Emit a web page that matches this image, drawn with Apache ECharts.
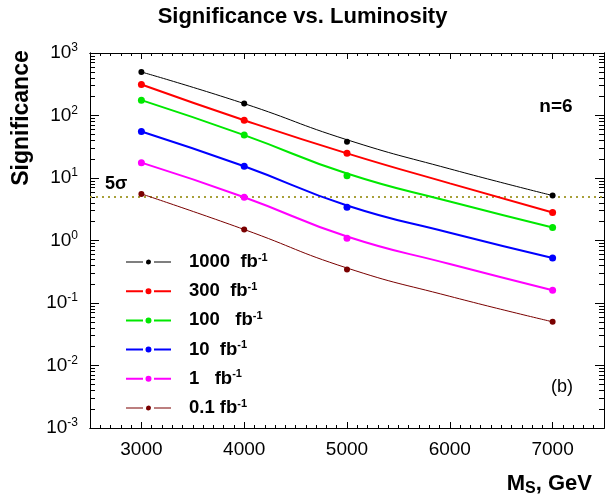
<!DOCTYPE html>
<html>
<head>
<meta charset="utf-8">
<script src="https://cdn.jsdelivr.net/npm/echarts@6/dist/echarts.min.js"></script>
<style>
  html, body { margin: 0; padding: 0; background: #ffffff; }
  #chart { width: 605px; height: 500px; }
</style>
</head>
<body>
<div id="chart"></div>
<script>
// Resonance mass points (GeV)
const massPoints = [3000, 4000, 5000, 7000];

// Significance for each integrated luminosity (n = 6), computed points
const sig1000 = [497, 155, 38.1, 5.24];
const sig300  = [313, 84, 24.8, 2.81];
const sig100  = [176, 48.6, 10.9, 1.62];
const sig10   = [55.6, 15.4, 3.41, 0.524];
const sig1    = [17.6, 4.93, 1.09, 0.160];
const sig01   = [5.57, 1.50, 0.342, 0.050];

// Fitted curves through the points, sampled every 1000 GeV
const fitMass = [3000, 4000, 5000, 6000, 7000];
const fit1000 = [497, 155, 40.9, 14.0, 5.24];
const fit300  = [313, 84, 24.8, 8.2, 2.81];
const fit100  = [176, 48.6, 11.8, 4.2, 1.62];
const fit10   = [55.6, 15.4, 3.63, 1.33, 0.524];
const fit1    = [17.6, 4.93, 1.16, 0.42, 0.160];
const fit01   = [5.57, 1.50, 0.363, 0.128, 0.050];

// Legend labels (the fb^-1 exponent is added as superscript)
const lumiNames = ['1000  fb', '300  fb', '100   fb', '10  fb', '1   fb', '0.1 fb'];

// Axis ticks
const xTickLabels = [3000, 4000, 5000, 6000, 7000];
const yDecades = [0.001, 0.01, 0.1, 1, 10, 100, 1000];
const fiveSigma = 5;

const pointSets = [sig1000, sig300, sig100, sig10, sig1, sig01];
const fitSets = [fit1000, fit300, fit100, fit10, fit1, fit01];
const seriesColors = ['#000000', '#ff0000', '#00e800', '#0000ff', '#ff00ff', '#7a0000'];
const lineWidths = [1, 2, 2, 2, 2, 1];
const dotSizes = [6, 7, 7, 7, 7, 6];

const FONT = '"Liberation Sans", Arial, Helvetica, sans-serif';

// minor tick positions: 100 GeV steps along x, 2..9 within each decade along y
const xMinor = [];
for (let v = 2500; v <= 7500; v += 100) xMinor.push(v);
const yMinor = [];
for (let d = 0; d < yDecades.length - 1; d++) {
  for (let m = 2; m <= 9; m++) yMinor.push(+(m * yDecades[d]).toPrecision(3));
}

const blackLine = { show: true, lineStyle: { color: '#000', width: 1 } };

function xAxisDef(position, ticks, len, withLabels) {
  return {
    type: 'value', position: position, min: 2500, max: 7500,
    axisLine: blackLine,
    axisTick: { show: true, inside: true, length: len, customValues: ticks, lineStyle: { color: '#000', width: 1 } },
    axisLabel: withLabels ? {
      show: true, customValues: xTickLabels, margin: 12, color: '#000',
      fontSize: 19, fontFamily: FONT,
      formatter: function (v) { return String(v); }
    } : { show: false },
    splitLine: { show: false }
  };
}

function yAxisDef(position, ticks, len, withLabels) {
  return {
    type: 'log', logBase: 10, position: position, min: 0.001, max: 1000,
    axisLine: blackLine,
    axisTick: { show: true, inside: true, length: len, customValues: ticks, lineStyle: { color: '#000', width: 1 } },
    axisLabel: withLabels ? {
      show: true, customValues: yDecades, margin: 12, color: '#000',
      fontFamily: FONT,
      formatter: function (v) {
        return '{b|10}{s|' + Math.round(Math.log10(v)) + '}';
      },
      rich: {
        b: { fontSize: 19, fontFamily: FONT, color: '#000', lineHeight: 22 },
        s: { fontSize: 12, fontFamily: FONT, color: '#000', verticalAlign: 'top', lineHeight: 22, padding: [0, 0, 9, 0] }
      }
    } : { show: false },
    splitLine: { show: false }
  };
}

const legendIconThin = 'path://M0,4.5H17V5.5H0Z M28,4.5H45V5.5H28Z M22.5,2.5A2.5,2.5 0 1 1 22.49,2.5Z';
const legendIconThick = 'path://M0,4H17V6H0Z M28,4H45V6H28Z M22.5,2A3,3 0 1 1 22.49,2Z';

const series = [];
fitSets.forEach(function (vals, i) {
  series.push({
    name: lumiNames[i],
    type: 'line',
    xAxisIndex: 0, yAxisIndex: 0,
    data: fitMass.map(function (m, k) { return [m, vals[k]]; }),
    smooth: 0.5,
    showSymbol: false,
    symbol: 'circle',
    lineStyle: { color: seriesColors[i], width: lineWidths[i] },
    itemStyle: { color: seriesColors[i] },
    emphasis: { disabled: true },
    z: 5
  });
});
pointSets.forEach(function (vals, i) {
  series.push({
    name: lumiNames[i],
    type: 'scatter',
    xAxisIndex: 0, yAxisIndex: 0,
    data: massPoints.map(function (m, k) { return [m, vals[k]]; }),
    symbol: 'circle',
    symbolSize: dotSizes[i],
    itemStyle: { color: seriesColors[i], opacity: 1 },
    emphasis: { disabled: true },
    z: 6
  });
});

// 5 sigma discovery threshold
series[0].markLine = {
  silent: true,
  symbol: 'none',
  label: { show: false },
  lineStyle: { color: '#a8a03a', width: 2, type: [2, 4] },
  data: [{ yAxis: fiveSigma }]
};

const option = {
  backgroundColor: '#ffffff',
  animation: false,
  title: {
    text: 'Significance vs. Luminosity',
    left: 'center', top: 1,
    textStyle: { fontSize: 22, fontWeight: 'bold', color: '#000', fontFamily: FONT }
  },
  grid: { left: 90, right: 1, top: 53, bottom: 72, containLabel: false },
  xAxis: [
    xAxisDef('bottom', xTickLabels, 6, true),
    xAxisDef('bottom', xMinor, 3, false),
    xAxisDef('top', xTickLabels, 6, false),
    xAxisDef('top', xMinor, 3, false)
  ],
  yAxis: [
    yAxisDef('left', yDecades, 9, true),
    yAxisDef('left', yMinor, 5, false),
    yAxisDef('right', yDecades, 9, false),
    yAxisDef('right', yMinor, 5, false)
  ],
  legend: {
    orient: 'vertical',
    left: 121, top: 247,
    itemWidth: 45, itemHeight: 6,
    itemGap: 9.7,
    selectedMode: false,
    data: lumiNames.map(function (n, i) {
      return { name: n, icon: (lineWidths[i] > 1 ? legendIconThick : legendIconThin) };
    }),
    formatter: function (name) { return '{t|' + name + '}{s|-1}'; },
    textStyle: {
      padding: [0, 0, 0, 13],
      rich: {
        t: { fontSize: 18.5, fontWeight: 'bold', fontFamily: FONT, color: '#000', lineHeight: 20 },
        s: { fontSize: 11, fontWeight: 'bold', fontFamily: FONT, color: '#000', verticalAlign: 'top', lineHeight: 20, padding: [0, 0, 8, 0] }
      }
    }
  },
  graphic: [
    {
      type: 'text', x: 22, y: 118, rotation: Math.PI / 2,
      style: { text: 'Significance', font: 'bold 23px ' + FONT, fill: '#000', align: 'center', verticalAlign: 'middle' }
    },
    {
      type: 'text', x: 592, y: 484,
      style: {
        text: '{m|M}{s|S}{m|, GeV}', align: 'right', verticalAlign: 'middle',
        rich: {
          m: { font: 'bold 22px ' + FONT, fill: '#000', lineHeight: 26 },
          s: { font: 'bold 16px ' + FONT, fill: '#000', lineHeight: 26, verticalAlign: 'bottom', padding: [8, 0, 0, 0] }
        }
      }
    },
    {
      type: 'text', x: 105, y: 184,
      style: { text: '5σ', font: 'bold 18px ' + FONT, fill: '#000', align: 'left', verticalAlign: 'middle' }
    },
    {
      type: 'text', x: 556, y: 107,
      style: { text: 'n=6', font: 'bold 19px ' + FONT, fill: '#000', align: 'center', verticalAlign: 'middle' }
    },
    {
      type: 'text', x: 562, y: 387,
      style: { text: '(b)', font: '18px ' + FONT, fill: '#000', align: 'center', verticalAlign: 'middle' }
    }
  ],
  series: series
};

const chart = echarts.init(document.getElementById('chart'), null, { renderer: 'canvas' });
chart.setOption(option);
</script>
</body>
</html>
